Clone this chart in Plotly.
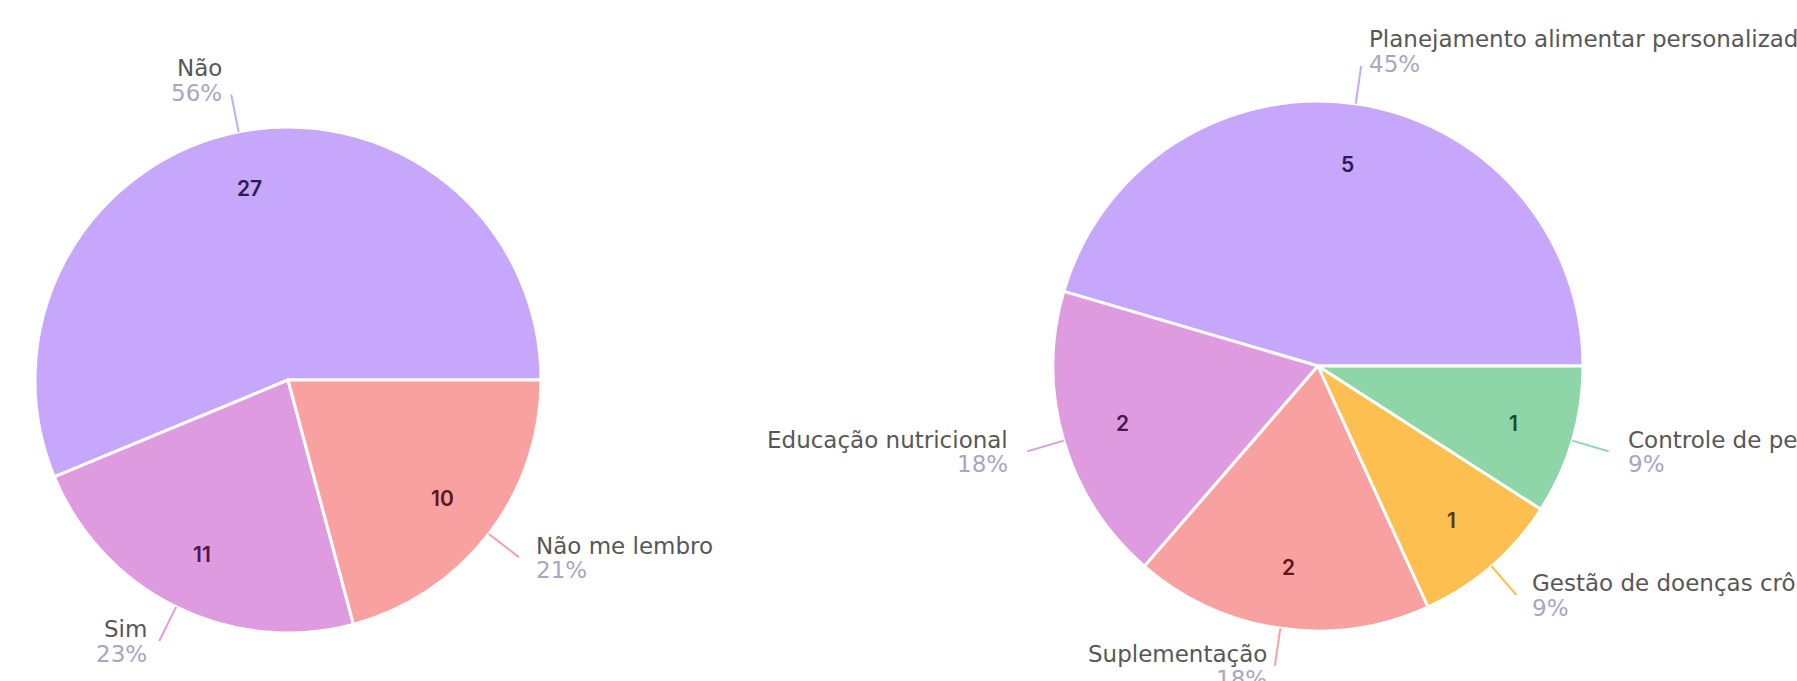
import math
import plotly.graph_objects as go

W, H = 1797, 681

# Survey answers, left chart
left_labels = ["Não", "Sim", "Não me lembro"]
left_values = [27, 11, 10]

# Survey answers, right chart
right_labels = [
    "Planejamento alimentar personalizado",
    "Educação nutricional",
    "Suplementação",
    "Gestão de doenças crônicas",
    "Controle de peso",
]
right_values = [5, 2, 2, 1, 1]

# Slice fills and the darker tone used for the count printed inside each slice
left_colors = ["#C6A7FB", "#DF9BE0", "#F9A0A0"]
left_value_colors = ["#2B1B4F", "#4C1650", "#5E1717"]
right_colors = ["#C6A7FB", "#DF9BE0", "#F9A0A0", "#FDBF4F", "#8ED6A7"]
right_value_colors = ["#2B1B4F", "#4C1650", "#5E1717", "#5A3A06", "#1D4A2C"]

# Pie placement in page pixels: centre x, centre y, radius
LEFT_PIE = (288, 380, 253)
RIGHT_PIE = (1318, 366, 265)

NAME_COLOR = "#575757"
PCT_COLOR = "#A7A7BF"
LEADER_LEN = 38
LABEL_FONT = "DejaVu Sans"
LABEL_SIZE = 23

fig = go.Figure()
annotations = []
shapes = []


def to_paper(x, y):
    return x / W, 1 - y / H


def text_note(x, y, text, xanchor, yanchor, color):
    px, py = to_paper(x, y)
    return dict(
        x=px, y=py, xref="paper", yref="paper", text=text,
        showarrow=False, xanchor=xanchor, yanchor=yanchor,
        borderpad=0, borderwidth=0,
        font=dict(family=LABEL_FONT, size=LABEL_SIZE, color=color),
    )


def add_pie(labels, values, colors, value_colors, geom):
    cx, cy, r = geom
    total = sum(values)
    first_deg = 360 * values[0] / total
    # slices run counter-clockwise, the first one starting at 3 o'clock
    fig.add_trace(go.Pie(
        labels=labels,
        values=values,
        sort=False,
        direction="counterclockwise",
        rotation=90 - first_deg,
        marker=dict(colors=colors, line=dict(color="white", width=3)),
        textinfo="none",
        hoverinfo="label+value+percent",
        showlegend=False,
        domain=dict(
            x=[(cx - r) / W, (cx + r) / W],
            y=[1 - (cy + r) / H, 1 - (cy - r) / H],
        ),
    ))

    cum = 0
    for lab, v, col, vcol in zip(labels, values, colors, value_colors):
        mid = math.radians(360 * (cum + v / 2) / total)
        cum += v
        c, s = math.cos(mid), math.sin(mid)

        # count inside the slice
        vx, vy = to_paper(cx + 0.77 * r * c, cy - 0.77 * r * s)
        annotations.append(dict(
            x=vx, y=vy, xref="paper", yref="paper", text=str(v),
            showarrow=False, xanchor="center", yanchor="middle",
            font=dict(family="Inter", size=21, color=vcol, weight=600),
        ))

        # leader line from the rim outwards
        x0, y0 = cx + r * c, cy - r * s
        x1, y1 = cx + (r + LEADER_LEN) * c, cy - (r + LEADER_LEN) * s
        p0 = to_paper(x0, y0)
        p1 = to_paper(x1, y1)
        shapes.append(dict(
            type="line", xref="paper", yref="paper",
            x0=p0[0], y0=p0[1], x1=p1[0], y1=p1[1],
            line=dict(color=col, width=2),
        ))

        # category name with its share underneath
        pct = round(100 * v / total)
        right_side = c >= 0
        xa = "left" if right_side else "right"
        gap = 6 + 14 * abs(c)
        tx = x1 + (gap if right_side else -gap)
        if s > 0.85:
            # label sits above the end of the leader
            pct_bottom = y1 + 11
            annotations.append(text_note(tx, pct_bottom, f"{pct}%", xa, "bottom", PCT_COLOR))
            annotations.append(text_note(tx, pct_bottom - 25, lab, xa, "bottom", NAME_COLOR))
        else:
            # leader ends between the name and the share
            annotations.append(text_note(tx, y1 + 1.4, lab, xa, "bottom", NAME_COLOR))
            annotations.append(text_note(tx, y1 - 0.3, f"{pct}%", xa, "top", PCT_COLOR))


add_pie(left_labels, left_values, left_colors, left_value_colors, LEFT_PIE)
add_pie(right_labels, right_values, right_colors, right_value_colors, RIGHT_PIE)

fig.update_layout(
    width=W,
    height=H,
    autosize=False,
    margin=dict(l=0, r=0, t=0, b=0),
    paper_bgcolor="white",
    plot_bgcolor="white",
    annotations=annotations,
    shapes=shapes,
)

fig.write_html("out.html")
